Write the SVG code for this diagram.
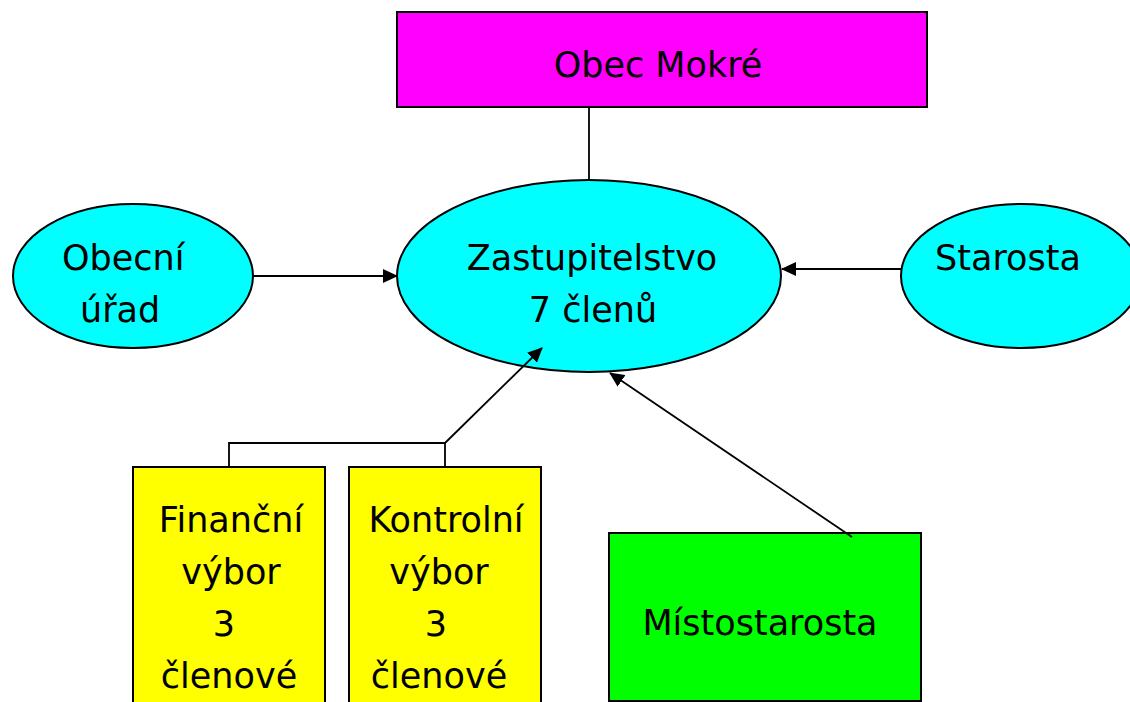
<svg xmlns="http://www.w3.org/2000/svg" width="1130" height="702" viewBox="0 0 1130 702">
<style>
.n{stroke:#000;stroke-width:2}
.c{stroke:#000;stroke-width:1.8;fill:none}
text{font-family:"DejaVu Sans","Noto Sans",sans-serif;font-size:35px;fill:#000}
.m{text-anchor:middle}
</style>
<defs>
<marker id="ah" markerWidth="15" markerHeight="14" refX="14" refY="7" orient="auto" markerUnits="userSpaceOnUse">
<path d="M0,0 L15,7 L0,14 Z" fill="#000"/>
</marker>
</defs>
<rect width="1130" height="702" fill="#fff"/>
<g id="obec">
<rect class="n" x="397" y="12" width="530" height="95" fill="#ff00ff"/>
<text class="m" x="658" y="77">Obec Mokré</text>
</g>
<g id="zastupitelstvo">
<ellipse class="n" cx="589" cy="276" rx="192" ry="96" fill="#00ffff"/>
<text class="m" x="592" y="270">Zastupitelstvo</text>
<text class="m" x="593" y="322">7 členů</text>
</g>
<g id="urad">
<ellipse class="n" cx="133" cy="276" rx="120" ry="72" fill="#00ffff"/>
<text x="62" y="270">Obecní</text>
<text x="80" y="322">úřad</text>
</g>
<g id="starosta">
<ellipse class="n" cx="1021" cy="276" rx="120" ry="72" fill="#00ffff"/>
<text x="935" y="270">Starosta</text>
</g>
<g id="financni">
<rect class="n" x="133" y="467" width="192" height="245" fill="#ffff00"/>
<text class="m" x="231" y="532">Finanční</text>
<text class="m" x="231" y="584">výbor</text>
<text class="m" x="224" y="636">3</text>
<text class="m" x="229" y="688">členové</text>
</g>
<g id="kontrolni">
<rect class="n" x="349" y="467" width="192" height="245" fill="#ffff00"/>
<text class="m" x="446" y="532">Kontrolní</text>
<text class="m" x="439" y="584">výbor</text>
<text class="m" x="436" y="636">3</text>
<text class="m" x="439" y="688">členové</text>
</g>
<g id="mistostarosta">
<rect class="n" x="609" y="533" width="312" height="168" fill="#00ff00"/>
<text class="m" x="760" y="635">Místostarosta</text>
</g>
<g id="connectors">
<line class="c" x1="589" y1="107" x2="589" y2="180"/>
<line class="c" x1="254" y1="276" x2="397" y2="276" marker-end="url(#ah)"/>
<line class="c" x1="901" y1="269" x2="782" y2="269" marker-end="url(#ah)"/>
<polyline class="c" points="229,467 229,443 445,443 445,467"/>
<line class="c" x1="445" y1="443" x2="542" y2="348" marker-end="url(#ah)"/>
<line class="c" x1="852" y1="537" x2="610" y2="373" marker-end="url(#ah)"/>
</g>
</svg>
